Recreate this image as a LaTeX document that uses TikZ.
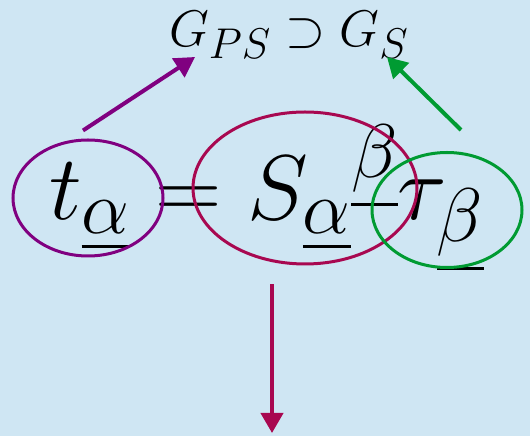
\RequirePackage{fix-cm}
\documentclass[tikz,border=0pt]{standalone}
\usepackage{amsmath,amssymb}
\usepackage{tikz}
\usetikzlibrary{arrows.meta,positioning,shapes.geometric,calc}
\definecolor{sky}{RGB}{207,230,243}
\definecolor{plum}{RGB}{128,0,128}
\definecolor{berry}{RGB}{168,8,80}
\definecolor{leaf}{RGB}{0,155,50}
\DeclareMathSizes{92}{92}{76}{61}
\DeclareMathSizes{51.5}{51.5}{43}{34}

\begin{document}
\begin{tikzpicture}[x=1pt,y=1pt,
    ring/.style={ellipse,draw,line width=3pt,inner sep=0pt},
    pointer/.style={line width=4pt,-{Triangle[length=20pt,width=22pt]}}]
    \fill[sky] (0,0) rectangle (530,436);
    \useasboundingbox (0,0) rectangle (530,436);
    % the equation and the groups above it
    \node[anchor=base west,inner sep=0pt] (eq) at (49,216) {%
      {\fontsize{92}{100}\selectfont
      $\fontdimen8\scriptfont3=3.6pt
      t_{\underline{\alpha}}=S_{\underline{\alpha}}{}^{\underline{\beta}}
        \tau_{\underline{\beta}}$}};
    \node[anchor=base west,inner sep=0pt] (groups) at (169,389) {%
      {\fontsize{51.5}{60}\selectfont $G_{PS}\supset G_S$}};
    % rings round the three factors
    \node[ring,draw=plum,minimum width=150pt,minimum height=116pt]
      (tring) at (88,238) {};
    \node[ring,draw=berry,minimum width=224pt,minimum height=152pt]
      (sring) at (305,248) {};
    \node[ring,draw=leaf,minimum width=150pt,minimum height=115pt]
      (tauring) at (447,226) {};
    \coordinate (psin) at (195,379);
    \coordinate (sin) at (387,379);
    \coordinate (down) at (272,3);
    \draw[pointer,plum] ([shift={(-5pt,8pt)}]tring.north) -- (psin);
    \draw[pointer,leaf] ([shift={(14pt,21pt)}]tauring.north) -- (sin);
    \draw[pointer,berry] ([shift={(-33pt,-19pt)}]sring.south) -- (down);
  \end{tikzpicture}
\end{document}
